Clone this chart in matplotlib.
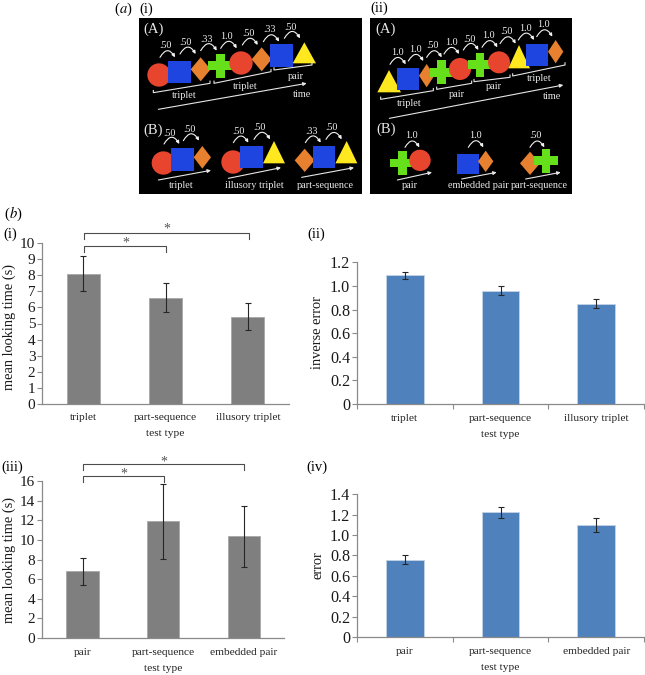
import matplotlib
matplotlib.use("Agg")
import matplotlib.pyplot as plt
from matplotlib.patches import Circle, Rectangle, Polygon, FancyArrowPatch

plt.rcParams["font.family"] = ["Liberation Serif", "DejaVu Serif"]

W, H = 645, 675

# ---- data ----
labels_i = ["triplet", "part-sequence", "illusory triplet"]
looking_i = [8.1, 6.6, 5.4]
looking_i_hi = [9.2, 7.55, 6.25]
looking_i_lo = [7.05, 5.7, 4.6]

inverse_ii = [1.09, 0.96, 0.85]
inverse_ii_hi = [1.115, 1.0, 0.89]
inverse_ii_lo = [1.06, 0.92, 0.81]

labels_iii = ["pair", "part-sequence", "embedded pair"]
looking_iii = [6.8, 11.9, 10.4]
looking_iii_hi = [8.2, 15.7, 13.5]
looking_iii_lo = [5.4, 8.1, 7.3]

error_iv = [0.76, 1.225, 1.10]
error_iv_hi = [0.80, 1.28, 1.17]
error_iv_lo = [0.72, 1.17, 1.03]

ticks_i = list(range(0, 11))
ticks_iii = list(range(0, 17, 2))
ticks_ii = [0, 0.2, 0.4, 0.6, 0.8, 1.0, 1.2]
ticks_iv = [0, 0.2, 0.4, 0.6, 0.8, 1.0, 1.2, 1.4]

GREY = "#7f7f7f"
BLUE = "#4f81bd"
SPINE = "#8a8a8a"
RED = "#e8452f"
SQ = "#1f45e0"
ORANGE = "#e8812f"
GREEN = "#66e01a"
YELLOW = "#ffe81f"

fig = plt.figure(figsize=(W / 100, H / 100), dpi=100)


def make_bars(box, vals, hi, lo, cats, ticks, fmt, color, ylabel, label_xy, edge_ticks, bar_w, tick_size):
    left, top, right, bottom = box
    ax = fig.add_axes([left / W, 1 - bottom / H, (right - left) / W, (bottom - top) / H])
    xs = [0.5, 1.5, 2.5]
    ax.bar(xs, vals, width=bar_w, color=color, edgecolor="#c4d3e6" if color == BLUE else "#a8a8a8", linewidth=0.6)
    yerr = [[v - l for v, l in zip(vals, lo)], [h - v for v, h in zip(vals, hi)]]
    ax.errorbar(xs, vals, yerr=yerr, fmt="none", ecolor="#262626", elinewidth=0.8, capsize=2, capthick=0.8)
    ax.set_xlim(0, 3)
    ax.set_ylim(ticks[0], ticks[-1])
    for s in ("top", "right"):
        ax.spines[s].set_visible(False)
    for s in ("left", "bottom"):
        ax.spines[s].set_color(SPINE)
        ax.spines[s].set_linewidth(0.9)
    ax.set_yticks(ticks)
    ax.set_yticklabels([fmt(t) for t in ticks], fontsize=tick_size, color="#1a1a1a")
    ax.tick_params(axis="y", length=3.5, width=0.8, color=SPINE, pad=1.5)
    ax.set_xticks(xs)
    ax.set_xticklabels(cats, fontsize=8.2, color="#222222")
    ax.tick_params(axis="x", length=0, pad=7)
    if edge_ticks:
        ax.set_xticks([0, 1, 2, 3], minor=True)
        ax.tick_params(axis="x", which="minor", length=3.5, width=0.8, color=SPINE)
    ax.set_xlabel("test type", fontsize=8.2, color="#222222", labelpad=5)
    ax.set_ylabel(ylabel, fontsize=10.4, color="#1a1a1a")
    ax.yaxis.set_label_coords((label_xy[0] - left) / (right - left), (bottom - label_xy[1]) / (bottom - top))
    return ax


def num_plain(t):
    return str(t)


def num_dec(t):
    return "0" if t == 0 else "%.1f" % t


make_bars((42.3, 243.3, 289, 403.7), looking_i, looking_i_hi, looking_i_lo, labels_i, ticks_i, num_plain,
          GREY, "mean looking time (s)", (16, 326.7), False, 0.4, 11)
make_bars((357, 262.3, 644, 404), inverse_ii, inverse_ii_hi, inverse_ii_lo, labels_i, ticks_ii, num_dec,
          BLUE, "inverse error", (324, 333), True, 0.395, 11.6)
make_bars((42.3, 481.3, 284, 638), looking_iii, looking_iii_hi, looking_iii_lo, labels_iii, ticks_iii, num_plain,
          GREY, "mean looking time (s)", (16, 560), False, 0.4, 11)
make_bars((357, 494.3, 644, 637), error_iv, error_iv_hi, error_iv_lo, labels_iii, ticks_iv, num_dec,
          BLUE, "error", (324, 565), True, 0.395, 11.6)

# overlay in picture pixels for the schematic and annotations
ov = fig.add_axes([0, 0, 1, 1], zorder=5)
ov.set_xlim(0, W)
ov.set_ylim(H, 0)
ov.axis("off")


def Z(x, y, ox, oy=0):
    # zoom crops were 3x
    return ox + x / 3, oy + y / 3


def circle(x, y, ox, r=35):
    cx, cy = Z(x, y, ox)
    ov.add_patch(Circle((cx, cy), r / 3, color=RED, lw=0, zorder=3))


def square(x0, x1, y0, y1, ox):
    a, b = Z(x0, y0, ox)
    c, d = Z(x1, y1, ox)
    ov.add_patch(Rectangle((a, b), c - a, d - b, color=SQ, lw=0, zorder=3))


def diamond(x, y, ox, hw=30, hh=36):
    cx, cy = Z(x, y, ox)
    hw, hh = hw / 3, hh / 3
    ov.add_patch(Polygon([(cx - hw, cy), (cx, cy - hh), (cx + hw, cy), (cx, cy + hh)], color=ORANGE, lw=0, zorder=3))


def plus(x, y, ox):
    cx, cy = Z(x, y, ox)
    a, t = 12, 4.2
    ov.add_patch(Rectangle((cx - a, cy - t), 2 * a, 2 * t, color=GREEN, lw=0, zorder=3))
    ov.add_patch(Rectangle((cx - t, cy - a), 2 * t, 2 * a, color=GREEN, lw=0, zorder=3))


def triangle(x, y, x0, x1, yb, ox):
    pts = [Z(x, y, ox), Z(x0, yb, ox), Z(x1, yb, ox)]
    ov.add_patch(Polygon(pts, color=YELLOW, lw=0, zorder=3))


def hop(txt, tx, ty, x0, x1, y, ox):
    ov.text(*Z(tx, ty, ox), txt, color="#f2f2f2", fontsize=7.2, ha="center", va="center", zorder=6)
    ov.add_patch(FancyArrowPatch(Z(x0, y, ox), Z(x1, y, ox), connectionstyle="arc3,rad=-0.85", arrowstyle="-|>",
                                 mutation_scale=4.5, color="#f2f2f2", lw=0.8, shrinkA=0, shrinkB=0, zorder=6))


def arrow(x0, y0, x1, y1, ox):
    ov.add_patch(FancyArrowPatch(Z(x0, y0, ox), Z(x1, y1, ox), arrowstyle="-|>", mutation_scale=5,
                                 color="#e6e6e6", lw=0.8, shrinkA=0, shrinkB=0, zorder=6))


def brace(x0, y0, x1, y1, ox):
    a, b = Z(x0, y0, ox)
    c, d = Z(x1, y1, ox)
    ov.plot([a, a, c, c], [b - 2.2, b, d, d - 2.2], color="#e6e6e6", lw=0.8, zorder=6)


def word(txt, x, y, ox, size=7.4):
    ov.text(*Z(x, y, ox), txt, color="#e6e6e6", fontsize=size, ha="center", va="center", zorder=6)


ov.add_patch(Rectangle((139, 18), 223, 176, color="black", lw=0, zorder=1))
ov.add_patch(Rectangle((370, 18), 202, 176, color="black", lw=0, zorder=1))

# (a)(i)
OX = 100
word("(A)", 162, 87, OX, 10.5)
circle(177, 225, OX); square(204, 272, 183, 250, OX); diamond(302, 208, OX); plus(361, 197, OX)
circle(423, 189, OX); diamond(485, 178, OX); triangle(613, 127, 578, 648, 190, OX); square(510, 578, 133, 201, OX)
hop(".50", 197, 138, 180, 225, 172, OX); hop(".50", 258, 128, 240, 287, 162, OX)
hop(".33", 320, 118, 302, 350, 152, OX); hop("1.0", 380, 110, 362, 410, 145, OX)
hop(".50", 447, 100, 427, 473, 135, OX); hop(".33", 508, 90, 490, 537, 125, OX)
hop(".50", 571, 82, 553, 600, 115, OX)
brace(160, 278, 330, 250, OX); word("triplet", 252, 285, OX)
brace(342, 250, 513, 215, OX); word("triplet", 437, 259, OX)
brace(522, 210, 636, 195, OX); word("pair", 588, 229, OX)
word("time", 607, 283, OX); arrow(175, 328, 620, 250, OX)

word("(B)", 160, 390, OX, 10.5)
circle(190, 489, OX); square(213, 281, 445, 512, OX); diamond(307, 472, OX, 26, 34)
hop(".50", 209, 400, 192, 238, 432, OX); hop(".50", 268, 390, 250, 297, 422, OX)
arrow(175, 540, 333, 511, OX); word("triplet", 244, 558, OX)
circle(399, 486, OX); triangle(522, 423, 489, 555, 490, OX); square(421, 489, 438, 505, OX)
hop(".50", 416, 393, 400, 445, 428, OX); hop(".50", 480, 384, 462, 510, 418, OX)
arrow(385, 535, 543, 503, OX); word("illusory triplet", 464, 557, OX)
diamond(614, 481, OX, 30, 35); triangle(740, 423, 706, 772, 490, OX); square(638, 706, 438, 505, OX)
hop(".33", 634, 393, 616, 662, 428, OX); hop(".50", 696, 384, 678, 725, 418, OX)
arrow(605, 532, 762, 503, OX); word("part-sequence", 675, 557, OX)

# (a)(ii)
OX = 360
word("(A)", 78, 87, OX, 10.5)
triangle(87, 210, 52, 123, 277, OX); square(110, 177, 204, 270, OX); diamond(200, 227, OX, 23, 35)
plus(245, 217, OX); circle(300, 207, OX, 33); plus(360, 194, OX); circle(417, 187, OX, 33)
triangle(477, 135, 445, 510, 205, OX); square(497, 563, 133, 198, OX); diamond(587, 155, OX, 23, 35)
hop("1.0", 112, 158, 90, 137, 193, OX); hop("1.0", 165, 147, 145, 190, 183, OX)
hop(".50", 217, 138, 200, 245, 172, OX); hop("1.0", 273, 128, 252, 297, 162, OX)
hop(".50", 330, 117, 310, 355, 150, OX); hop("1.0", 385, 107, 366, 412, 142, OX)
hop(".50", 440, 96, 420, 467, 131, OX); hop("1.0", 495, 86, 475, 522, 120, OX)
hop("1.0", 549, 73, 530, 577, 110, OX)
brace(62, 298, 220, 272, OX); word("triplet", 149, 311, OX)
brace(230, 268, 335, 250, OX); word("pair", 291, 283, OX)
brace(342, 245, 450, 232, OX); word("pair", 403, 259, OX)
brace(458, 228, 615, 195, OX); word("triplet", 539, 236, OX)
word("time", 575, 289, OX); arrow(88, 355, 610, 255, OX)

word("(B)", 78, 388, OX, 10.5)
plus(127, 489, OX); circle(180, 481, OX, 32)
hop("1.0", 154, 405, 135, 178, 442, OX); arrow(112, 540, 216, 517, OX); word("pair", 149, 558, OX)
square(292, 356, 462, 522, OX); diamond(377, 484, OX, 23, 32)
hop("1.0", 346, 407, 325, 370, 442, OX); arrow(305, 537, 410, 517, OX); word("embedded pair", 355, 557, OX)
diamond(510, 490, OX, 30, 35); plus(558, 482, OX)
hop(".50", 527, 405, 510, 553, 442, OX); arrow(497, 537, 602, 517, OX); word("part-sequence", 539, 557, OX)

# panel letters
ov.text(119, 9, "(", fontsize=10.5, ha="right", va="center")
ov.text(119, 9, "$\\mathit{a}$)", fontsize=10.5, ha="left", va="center", math_fontfamily="stix")
ov.text(146, 9, "(i)", fontsize=10.5, ha="center", va="center")
ov.text(379, 8, "(ii)", fontsize=10.5, ha="center", va="center")
ov.text(9, 214, "(", fontsize=10.5, ha="right", va="center")
ov.text(9, 214, "$\\mathit{b}$)", fontsize=10.5, ha="left", va="center", math_fontfamily="stix")
ov.text(10, 234, "(i)", fontsize=10.5, ha="center", va="center")
ov.text(316, 234, "(ii)", fontsize=10.5, ha="center", va="center")
ov.text(12, 467, "(iii)", fontsize=10.5, ha="center", va="center")
ov.text(317, 467, "(iv)", fontsize=10.5, ha="center", va="center")


def sig(x0, x1, y, drop, star_x, star_y):
    ov.plot([x0, x0, x1, x1], [y + drop, y, y, y + drop], color="#4d4d4d", lw=0.8)
    ov.text(star_x, star_y, "*", fontsize=10, color="#555555", ha="center", va="center")


sig(84, 248.7, 233.3, 5.7, 166.7, 229)
sig(84, 166, 246, 5.7, 126, 243)
sig(82.7, 244, 464.3, 5.7, 163.7, 462.5)
sig(82.7, 164, 475.7, 6, 124, 474)

fig.savefig("out.png", dpi=100)
